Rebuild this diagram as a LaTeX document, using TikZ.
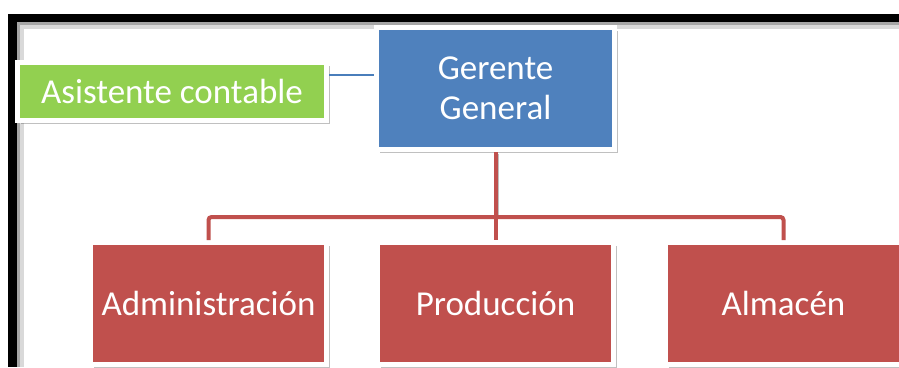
\documentclass[tikz,border=0pt]{standalone}
\usepackage{fontspec}
\setmainfont{Carlito}
\usetikzlibrary{shadows}
\definecolor{cgreen}{HTML}{92D050}
\definecolor{cblue}{HTML}{4F81BD}
\definecolor{cred}{HTML}{C0504D}
\definecolor{clink}{HTML}{4A7EBB}
\tikzset{
  box/.style={draw=white, line width=5pt, text=white, align=center,
    inner sep=0pt, font=\fontsize{35}{40}\selectfont,
    drop shadow={shadow xshift=3pt, shadow yshift=-3pt, opacity=0.35, fill=black!70}},
  greenbox/.style={box, fill=cgreen, minimum width=309pt, minimum height=58pt},
  bluebox/.style={box, fill=cblue, minimum width=238pt, minimum height=122pt},
  redbox/.style={box, fill=cred, minimum width=236pt, minimum height=122pt},
  redline/.style={draw=cred, line width=4pt, rounded corners=3pt},
  blueline/.style={draw=clink, line width=1.3pt},
}
\begin{document}
\begin{tikzpicture}[x=1pt, y=-1pt]
\useasboundingbox (0,0) rectangle (899,367);
\clip (0,0) rectangle (899,367);
\fill[white] (0,0) rectangle (899,367);
% frame shadow and frame
\fill[black!15] (17,22) rectangle (899,29);
\fill[black!15] (17,22) rectangle (24,367);
\fill[black!35] (17,22) rectangle (899,25);
\fill[black!35] (17,22) rectangle (20,367);
\fill[black] (8,14) rectangle (899,22);
\fill[black] (8,14) rectangle (17,367);
% nodes
\node[greenbox] (asis) at (172,91.5) {Asistente contable};
\node[bluebox] (gg) at (495.5,88.5) {Gerente\\General};
\coordinate (bus) at (495.5,217);
% connectors
\draw[redline, draw=black!25, line width=3pt] ([xshift=2pt,yshift=-2pt]gg.south) -- ([xshift=2pt]bus);
\draw[redline] (gg.south) -- (bus);
\node[redbox] (adm) at (208.5,303.5) {Administración};
\node[redbox] (prod) at (495.5,303.5) {Producción};
\node[redbox] (alm) at (783.5,303.5) {Almacén};
\draw[redline] (bus) -- (prod.north);
\draw[redline] (adm.north) |- (bus) -| (alm.north);
\draw[blueline] ([yshift=16.5pt]asis.east) -- ([yshift=16.5pt]asis.east -| gg.west);
\end{tikzpicture}
\end{document}
